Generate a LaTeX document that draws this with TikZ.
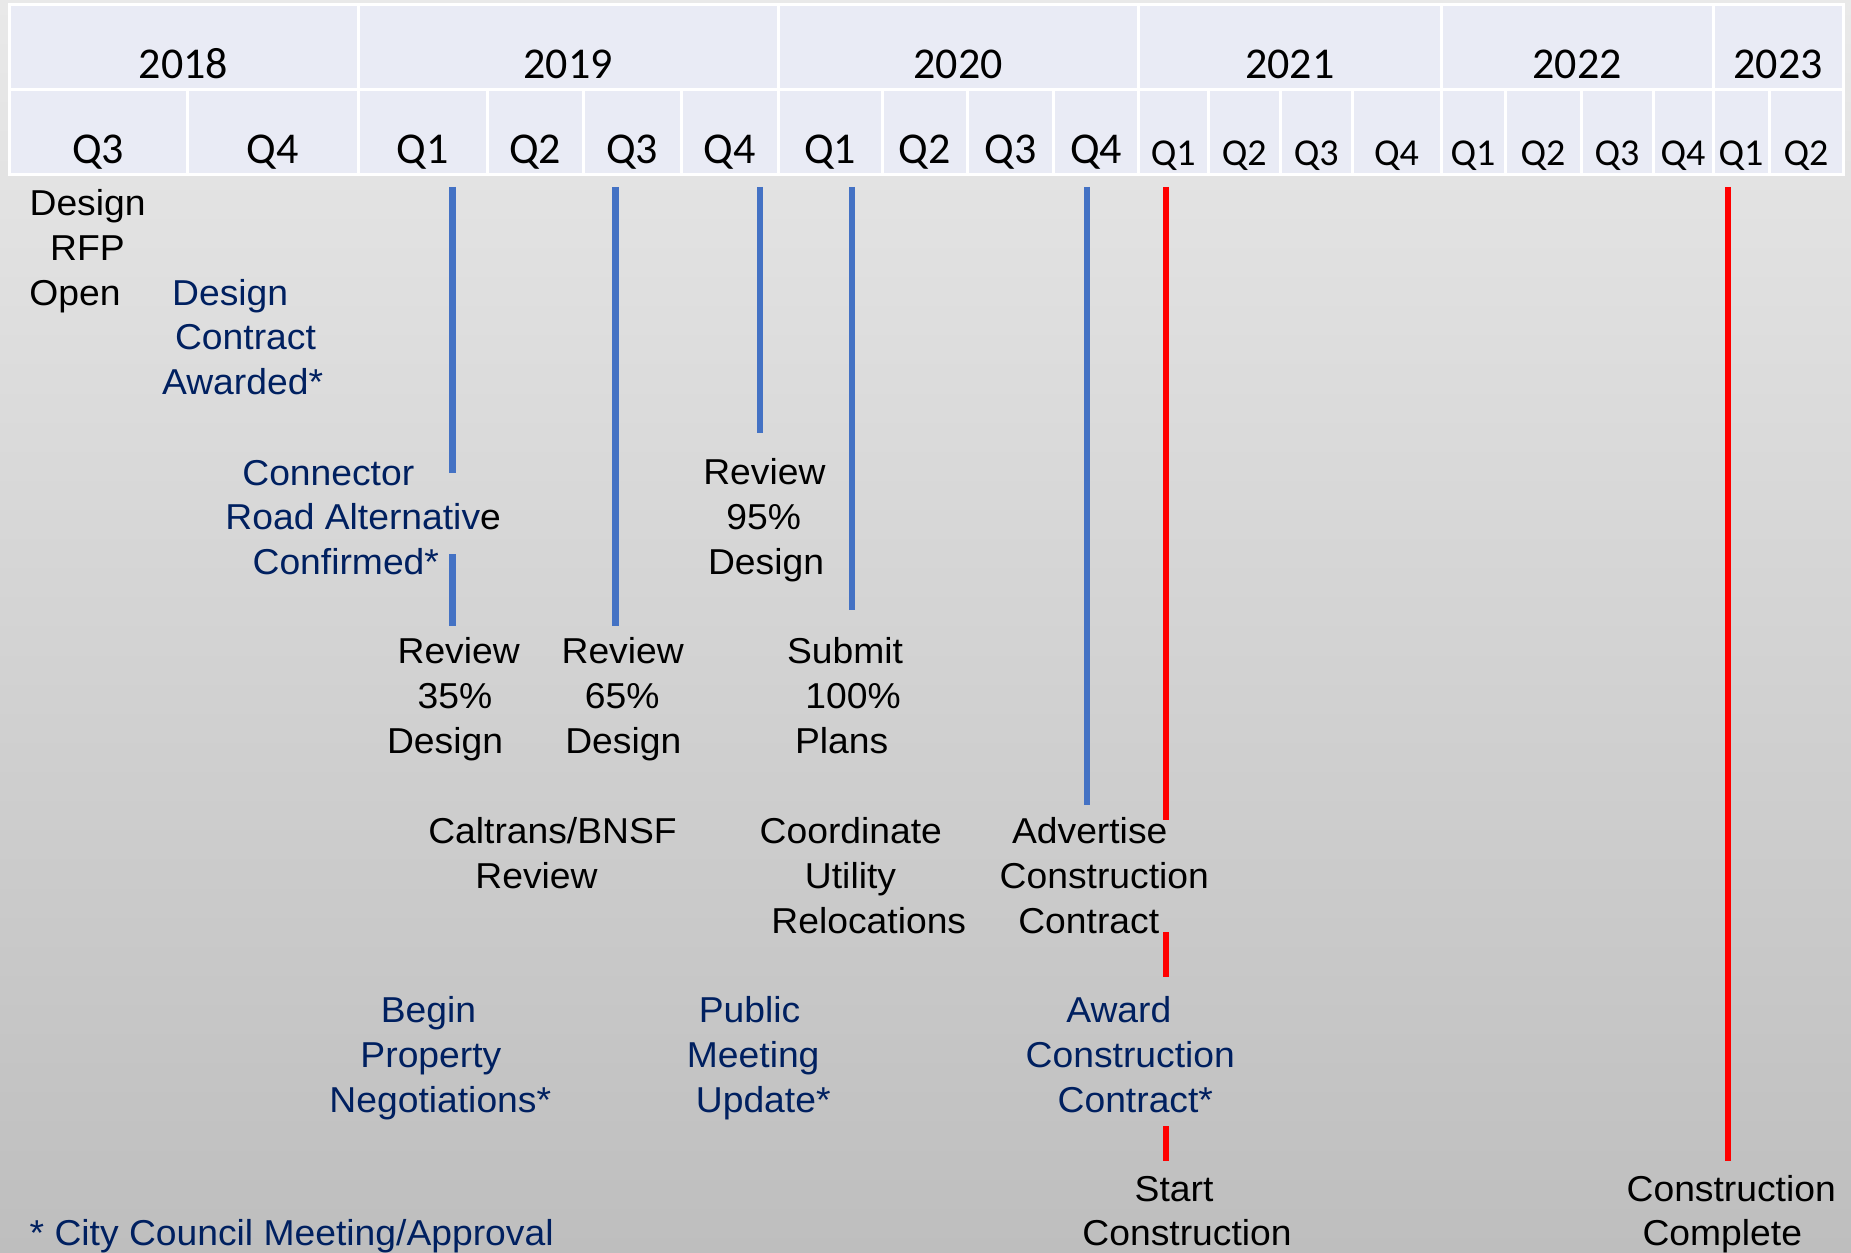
\documentclass[tikz,border=0pt]{standalone}
\usepackage{fontspec}
\setmainfont[FakeStretch=1.035]{Liberation Sans}
\newfontfamily\hdrfont{Carlito}
\definecolor{bgtop}{RGB}{233,233,233}
\definecolor{bgbot}{RGB}{190,190,190}
\definecolor{cellfill}{RGB}{233,235,245}
\definecolor{navy}{RGB}{0,32,96}
\definecolor{lineblue}{RGB}{68,114,196}
\definecolor{linered}{RGB}{255,0,0}
\begin{document}
\begin{tikzpicture}[x=1pt,y=-1pt,
 cell/.style={fill=cellfill,draw=white,line width=3pt},
 yr/.style={anchor=base,inner sep=0pt,font=\hdrfont\fontsize{44}{52}\selectfont},
 qb/.style={anchor=base,inner sep=0pt,font=\hdrfont\fontsize{44}{52}\selectfont},
 qs/.style={anchor=base,inner sep=0pt,font=\hdrfont\fontsize{38}{46}\selectfont},
 lbl/.style={anchor=base,inner sep=0pt,font=\fontsize{36}{43}\selectfont,text=black},
 nlbl/.style={lbl,text=navy},
 bline/.style={draw=lineblue,line width=6.3pt},
 rline/.style={draw=linered,line width=6pt}]
\useasboundingbox (0,0) rectangle (1851,1252);
\shade[top color=bgtop,bottom color=bgbot] (0,0) rectangle (1851,1252);
% header: years
\foreach \a/\b/\t [count=\i] in {9/358/2018,358/778/2019,778/1138.5/2020,1138.5/1441/2021,1441/1713/2022,1713/1843/2023}{
  \path[cell] (\a,5) rectangle (\b,90);
  \node[yr] (y\i) at ({(\a+\b)/2},78.3) {\t};
}
% header: quarters (large)
\foreach \a/\b/\t [count=\i] in {9/187/Q3,187/358/Q4,358/487.5/Q1,487.5/583/Q2,583/681/Q3,681/778/Q4,778/882/Q1,882/967.5/Q2,967.5/1053.6/Q3,1053.6/1138.5/Q4}{
  \path[cell] (\a,90) rectangle (\b,175);
  \node[qb] (qa\i) at ({(\a+\b)/2},163.5) {\t};
}
% header: quarters (small)
\foreach \a/\b/\t [count=\i] in {1138.5/1208/Q1,1208/1280.5/Q2,1280.5/1352/Q3,1352/1441/Q4,1441/1505/Q1,1505/1581/Q2,1581/1653/Q3,1653/1713/Q4,1713/1769/Q1,1769/1843/Q2}{
  \path[cell] (\a,90) rectangle (\b,175);
  \node[qs] (qb\i) at ({(\a+\b)/2},166) {\t};
}
% milestone lines
\coordinate (b1t) at (452.5,187); \coordinate (b1m) at (452.5,473);
\coordinate (b1n) at (452.5,554); \coordinate (b1b) at (452.5,626);
\coordinate (b2t) at (615.5,187); \coordinate (b2b) at (615.5,626);
\coordinate (b3t) at (760,187);   \coordinate (b3b) at (760,433);
\coordinate (b4t) at (852,187);   \coordinate (b4b) at (852,610);
\coordinate (b5t) at (1087,187);  \coordinate (b5b) at (1087,805);
\coordinate (r1t) at (1166,187);  \coordinate (r1a) at (1166,820);
\coordinate (r1b) at (1166,932);  \coordinate (r1c) at (1166,977);
\coordinate (r1d) at (1166,1126); \coordinate (r1e) at (1166,1161);
\coordinate (r2t) at (1728,187);  \coordinate (r2b) at (1728,1161);
\draw[bline] (b1t) -- (b1m);
\draw[bline] (b1n) -- (b1b);
\draw[bline] (b2t) -- (b2b);
\draw[bline] (b3t) -- (b3b);
\draw[bline] (b4t) -- (b4b);
\draw[bline] (b5t) -- (b5b);
\draw[rline] (r1t) -- (r1a);
\draw[rline] (r1b) -- (r1c);
\draw[rline] (r1d) -- (r1e);
\draw[rline] (r2t) -- (r2b);
% labels
\node[lbl] (rfp1) at (87.6,215) {Design};
\node[lbl] (rfp2) at (87.5,260) {RFP};
\node[lbl] (rfp3) at (75,305) {Open};
\node[nlbl] (dca1) at (230.2,305) {Design};
\node[nlbl] (dca2) at (245.5,349.5) {Contract};
\node[nlbl] (dca3) at (242.6,394) {Awarded*};
\node[nlbl] (cra1) at (328.3,485) {Connector};
\node[nlbl] (cra2) at (363.2,529.5) {Road Alternativ{\color{black}e}};
\node[nlbl] (cra3) at (345.8,574) {Confirmed*};
\node[lbl] (r35a) at (458.7,663) {Review};
\node[lbl] (r35b) at (455,708) {35\%};
\node[lbl] (r35c) at (445,753) {Design};
\node[lbl] (r65a) at (622.7,663) {Review};
\node[lbl] (r65b) at (622.2,708) {65\%};
\node[lbl] (r65c) at (623.3,753) {Design};
\node[lbl] (r95a) at (764.4,484) {Review};
\node[lbl] (r95b) at (763.7,529) {95\%};
\node[lbl] (r95c) at (766,574) {Design};
\node[lbl] (sub1) at (845,663) {Submit};
\node[lbl] (sub2) at (853,708) {100\%};
\node[lbl] (sub3) at (841.7,753) {Plans};
\node[lbl] (cal1) at (552.5,843) {Caltrans/BNSF};
\node[lbl] (cal2) at (536.5,888) {Review};
\node[lbl] (cou1) at (850.8,843) {Coordinate};
\node[lbl] (cou2) at (850.5,888) {Utility};
\node[lbl] (cou3) at (868.8,933) {Relocations};
\node[lbl] (adv1) at (1089.7,843) {Advertise};
\node[lbl] (adv2) at (1104.3,888) {Construction};
\node[lbl] (adv3) at (1088.7,933) {Contract};
\node[nlbl] (bpn1) at (428.5,1022) {Begin};
\node[nlbl] (bpn2) at (430.9,1067) {Property};
\node[nlbl] (bpn3) at (440.3,1112) {Negotiations*};
\node[nlbl] (pmu1) at (749.6,1022) {Public};
\node[nlbl] (pmu2) at (753.2,1067) {Meeting};
\node[nlbl] (pmu3) at (763.2,1112) {Update*};
\node[nlbl] (acc1) at (1118.8,1022) {Award};
\node[nlbl] (acc2) at (1130.3,1067) {Construction};
\node[nlbl] (acc3) at (1135.3,1112) {Contract*};
\node[lbl] (stc1) at (1174,1201) {Start};
\node[lbl] (stc2) at (1187,1245.5) {Construction};
\node[lbl] (cc1) at (1731.2,1201) {Construction};
\node[lbl] (cc2) at (1722.3,1245.5) {Complete};
\node[nlbl,anchor=base west] (note) at (29.5,1245.5) {* City Council Meeting/Approval};
\end{tikzpicture}
\end{document}
